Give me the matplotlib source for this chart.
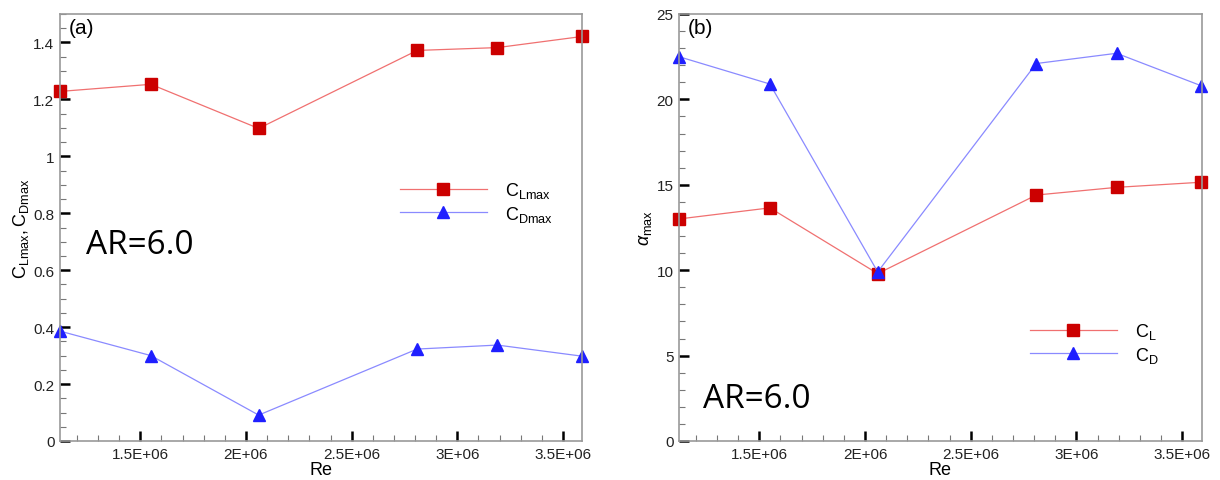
import matplotlib
matplotlib.use("Agg")
import matplotlib.pyplot as plt
from matplotlib.ticker import MultipleLocator, FuncFormatter

plt.rcParams["font.family"] = ["Liberation Sans", "DejaVu Sans"]
plt.rcParams["mathtext.fontset"] = "custom"
plt.rcParams["mathtext.rm"] = "Liberation Sans"
plt.rcParams["mathtext.it"] = "Liberation Sans:italic"

# Reynolds numbers
re_vals = [1.12e6, 1.55e6, 2.06e6, 2.81e6, 3.19e6, 3.59e6]

# (a) max coefficients
cl_max = [1.228, 1.253, 1.098, 1.372, 1.382, 1.421]
cd_max = [0.386, 0.300, 0.091, 0.323, 0.337, 0.298]

# (b) stall angle
alpha_cl = [13.0, 13.65, 9.8, 14.4, 14.85, 15.15]
alpha_cd = [22.5, 20.9, 9.9, 22.1, 22.7, 20.8]

RED_LINE = "#f07070"
RED_MK = "#cc0000"
BLUE_LINE = "#8a8aff"
BLUE_MK = "#1f1fff"


def sci_fmt(x, pos):
    if x == 0:
        return "0"
    return ("%g" % (x / 1e6)) + "E+06"


def style_axes(ax, ymajor, yminor):
    for sp in ax.spines.values():
        sp.set_color("#999999")
        sp.set_linewidth(1.2)
    ax.xaxis.set_major_locator(MultipleLocator(5e5))
    ax.xaxis.set_minor_locator(MultipleLocator(1e5))
    ax.xaxis.set_major_formatter(FuncFormatter(sci_fmt))
    ax.yaxis.set_major_locator(MultipleLocator(ymajor))
    ax.yaxis.set_minor_locator(MultipleLocator(yminor))
    ax.tick_params(which="major", direction="in", length=7, width=1.8,
                   color="black", labelsize=11, labelcolor="#222222", pad=4)
    ax.tick_params(which="minor", direction="in", length=4, width=0.8,
                   color="#777777")
    ax.tick_params(top=False, right=False, which="both")
    ax.set_xlabel("Re", fontsize=13, labelpad=0)


fig = plt.figure(figsize=(12.2, 4.81), dpi=100)
ax1 = fig.add_axes([60 / 1220, 39 / 481, 522 / 1220, 427 / 481])
ax2 = fig.add_axes([679 / 1220, 39 / 481, 523 / 1220, 427 / 481])

sq_kw = dict(linewidth=0.9, markersize=8, marker="s")
tri_kw = dict(linewidth=0.9, markersize=9, marker="^")

ax1.plot(re_vals, cl_max, color=RED_LINE, markerfacecolor=RED_MK,
         markeredgecolor=RED_MK, label=r"$\mathrm{C}_{\mathrm{Lmax}}$", clip_on=False, **sq_kw)
ax1.plot(re_vals, cd_max, color=BLUE_LINE, markerfacecolor=BLUE_MK,
         markeredgecolor=BLUE_MK, label=r"$\mathrm{C}_{\mathrm{Dmax}}$", clip_on=False, **tri_kw)
ax1.set_xlim(1.12e6, 3.59e6)
ax1.set_ylim(0, 1.5)
style_axes(ax1, 0.2, 0.05)
ax1.yaxis.set_major_formatter(FuncFormatter(lambda v, p: "%g" % round(v, 2)))
ax1.set_ylabel(r"$\mathrm{C}_{\mathrm{Lmax}}\mathrm{, C}_{\mathrm{Dmax}}$", fontsize=13, labelpad=2)
ax1.text(0.017, 0.99, "(a)", transform=ax1.transAxes, fontsize=15, va="top", ha="left")
ax1.text(0.05, 0.46, "AR=6.0", transform=ax1.transAxes, fontsize=24,
         family=["Open Sans", "DejaVu Sans"], va="center", ha="left")
ax1.legend(loc="center left", bbox_to_anchor=(0.62, 0.56), frameon=False,
           fontsize=13, handlelength=4.8, handletextpad=1.0, labelspacing=0.2)

ax2.plot(re_vals, alpha_cl, color=RED_LINE, markerfacecolor=RED_MK,
         markeredgecolor=RED_MK, label=r"$\mathrm{C}_{\mathrm{L}}$", clip_on=False, **sq_kw)
ax2.plot(re_vals, alpha_cd, color=BLUE_LINE, markerfacecolor=BLUE_MK,
         markeredgecolor=BLUE_MK, label=r"$\mathrm{C}_{\mathrm{D}}$", clip_on=False, **tri_kw)
ax2.set_xlim(1.12e6, 3.594e6)
ax2.set_ylim(0, 25)
style_axes(ax2, 5, 1)
ax2.set_ylabel(r"$\alpha_{\mathrm{max}}$", fontsize=13, labelpad=2)
ax2.text(0.017, 0.99, "(b)", transform=ax2.transAxes, fontsize=15, va="top", ha="left")
ax2.text(0.045, 0.1, "AR=6.0", transform=ax2.transAxes, fontsize=24,
         family=["Open Sans", "DejaVu Sans"], va="center", ha="left")
ax2.legend(loc="center left", bbox_to_anchor=(0.64, 0.23), frameon=False,
           fontsize=13, handlelength=4.8, handletextpad=1.0, labelspacing=0.2)

fig.savefig("out.png", dpi=100)
